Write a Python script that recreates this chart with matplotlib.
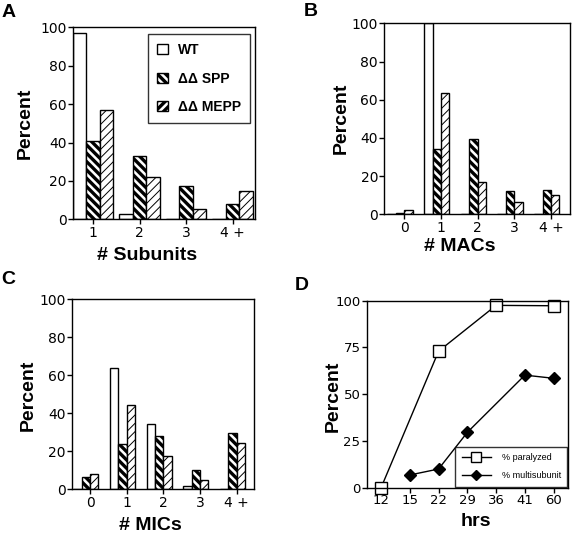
import numpy as np
import matplotlib
matplotlib.use("Agg")
import matplotlib.pyplot as plt

# panel A: number of subunits
subunit_labels = ["1", "2", "3", "4 +"]
subunit_wt = [97, 3, 0, 0]
subunit_spp = [41, 33, 17.5, 8]
subunit_mepp = [57, 22, 5.5, 14.5]

# panel B: number of MACs
mac_labels = ["0", "1", "2", "3", "4 +"]
mac_wt = [0, 100, 0, 0, 0]
mac_spp = [0.5, 34, 39.3, 12.4, 12.9]
mac_mepp = [2.1, 63.7, 17.1, 6.3, 9.9]

# panel C: number of MICs
mic_labels = ["0", "1", "2", "3", "4 +"]
mic_wt = [0, 63.7, 34.2, 1.9, 0]
mic_spp = [6.7, 23.7, 28.1, 10, 29.8]
mic_mepp = [8.1, 44.2, 17.7, 4.9, 24.2]

# panel D: time course
hrs_labels = ["12", "15", "22", "29", "36", "41", "60"]
paralyzed_idx = [0, 2, 4, 6]
paralyzed = [0, 73, 97.5, 97.3]
multi_idx = [1, 2, 3, 5, 6]
multisubunit = [6.8, 10, 29.6, 60.2, 58.5]

W, H = 574, 537
TICK_FONT = "DejaVu Sans"
LABEL_FONT = "Liberation Sans"
SPP_HATCH = "\\\\\\\\"
MEPP_HATCH = "////"


def px_axes(fig, left, top, right, bottom):
    return fig.add_axes([left / W, 1 - bottom / H, (right - left) / W, (bottom - top) / H])


def style_axes(ax, size=9.5):
    for s in ax.spines.values():
        s.set_linewidth(1.0)
    ax.tick_params(direction="out", length=3.5, width=1.0, pad=1, labelsize=size)
    for lab in ax.get_xticklabels() + ax.get_yticklabels():
        lab.set_fontfamily(TICK_FONT)


def hatch_bar(bars, hatch, lw):
    for b in bars:
        b.set_hatch(hatch)
        if hasattr(b, "set_hatch_linewidth"):
            b.set_hatch_linewidth(lw)


def fig_text(x, y, s, size=14, rot=0):
    fig.text(x / W, 1 - y / H, s, fontsize=size, fontweight="bold", family=LABEL_FONT,
             rotation=rot, ha="center", va="center")


def grouped_bars(ax, wt, spp, mepp, w):
    x = np.arange(len(wt))
    kw = dict(align="edge", color="white", edgecolor="black", lw=1.0)
    ax.bar(x - 2 * w, wt, w, **kw)
    bs = ax.bar(x - w, spp, w, **kw)
    bm = ax.bar(x, mepp, w, **kw)
    hatch_bar(bs, SPP_HATCH, 2.4)
    hatch_bar(bm, MEPP_HATCH, 0.7)
    return x


plt.rcParams["hatch.linewidth"] = 2.4
fig = plt.figure(figsize=(W / 100, H / 100), dpi=100)

# ---- A
axA = px_axes(fig, 72.7, 27.3, 255, 219.3)
x = np.arange(len(subunit_labels))
w = 0.29
axA.bar(x - w, subunit_wt, w, color="white", edgecolor="black", lw=1.0, label="WT")
bs = axA.bar(x, subunit_spp, w, color="white", edgecolor="black", lw=1.0, label="ΔΔ SPP")
bm = axA.bar(x + w, subunit_mepp, w, color="white", edgecolor="black", lw=1.0, label="ΔΔ MEPP")
hatch_bar(bs, SPP_HATCH, 2.4)
hatch_bar(bm, MEPP_HATCH, 0.7)
axA.set_xlim(-0.437, 3.48)
axA.set_ylim(0, 100)
axA.set_xticks(x, subunit_labels)
axA.set_yticks(range(0, 101, 20))
style_axes(axA, 10)
leg = axA.legend(loc="upper right", bbox_to_anchor=(0.973, 0.965), frameon=True, fancybox=False,
                 prop={"family": LABEL_FONT, "weight": "bold", "size": 10},
                 handlelength=0.75, handleheight=0.75, handletextpad=0.75, labelspacing=1.05,
                 borderpad=0.65, borderaxespad=0)
leg.get_frame().set_edgecolor("black")
leg.get_frame().set_linewidth(1.0)
for p in leg.get_patches():
    p.set_linewidth(1.0)

# ---- B
axB = px_axes(fig, 384.3, 23.3, 570, 214.3)
x = grouped_bars(axB, mac_wt, mac_spp, mac_mepp, 0.23)
axB.set_xlim(-0.545, 4.52)
axB.set_ylim(0, 100)
axB.set_xticks(x, mac_labels)
axB.set_yticks(range(0, 101, 20))
style_axes(axB, 10)

# ---- C
axC = px_axes(fig, 71.7, 299.3, 254.3, 489.3)
x = grouped_bars(axC, mic_wt, mic_spp, mic_mepp, 0.23)
axC.set_xlim(-0.5, 4.48)
axC.set_ylim(0, 100)
axC.set_xticks(x, mic_labels)
axC.set_yticks(range(0, 101, 20))
style_axes(axC, 10)

# ---- D
axD = px_axes(fig, 366.7, 300.7, 568, 487.7)
axD.plot(paralyzed_idx, paralyzed, color="black", lw=1.0, marker="s", ms=8,
         mfc="white", mec="black", mew=1.0, label="% paralyzed", clip_on=False)
axD.plot(multi_idx, multisubunit, color="black", lw=1.0, marker="D", ms=6.5,
         mfc="black", mec="black", label="% multisubunit", clip_on=False)
axD.set_xlim(-0.5, 6.5)
axD.set_ylim(0, 100)
axD.set_xticks(range(len(hrs_labels)), hrs_labels)
axD.set_yticks(range(0, 101, 25))
style_axes(axD, 9.5)
legD = axD.legend(loc="lower right", frameon=True, fancybox=False, prop={"family": LABEL_FONT, "size": 6.5},
                  handlelength=3.2, handletextpad=1.2, labelspacing=1.0, borderpad=0.7,
                  borderaxespad=0.1, markerscale=0.85)
legD.get_frame().set_edgecolor("black")
legD.get_frame().set_linewidth(1.0)

# ---- axis labels and panel letters
fig_text(25.5, 123, "Percent", rot=90)
fig_text(147.5, 255, "# Subunits")
fig_text(341, 118, "Percent", rot=90)
fig_text(460, 246, "# MACs")
fig_text(28, 395, "Percent", rot=90)
fig_text(150, 526, "# MICs")
fig_text(333, 396, "Percent", rot=90)
fig_text(476, 522, "hrs")
fig_text(9, 12.5, "A", size=14)
fig_text(311, 11, "B", size=14)
fig_text(8, 279, "C", size=14)
fig_text(302, 285, "D", size=14)

fig.savefig("out.png", dpi=100)
